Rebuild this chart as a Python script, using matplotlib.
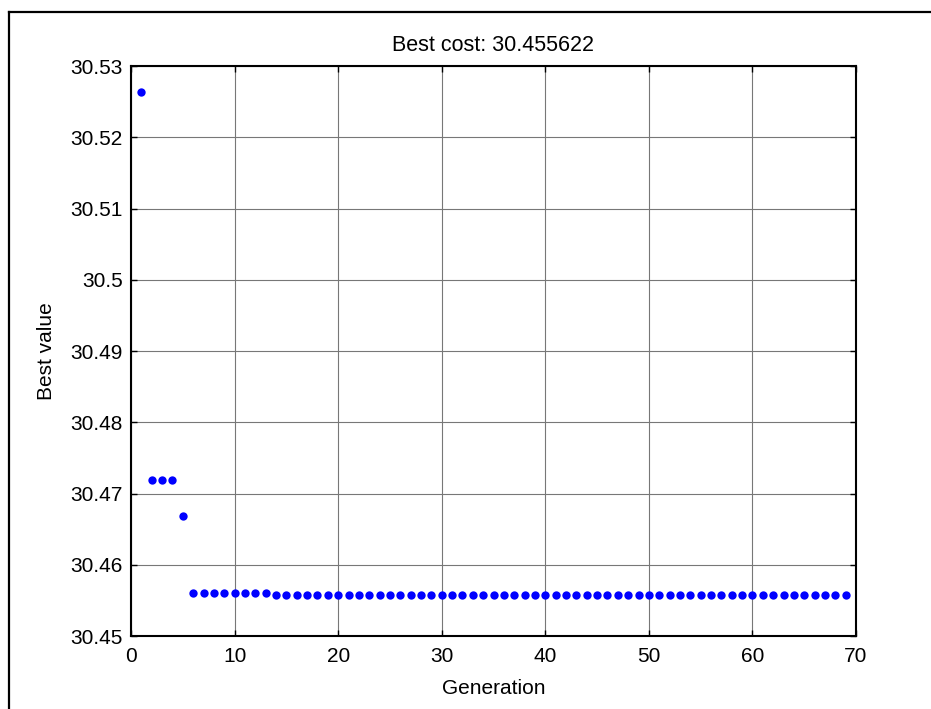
import matplotlib
matplotlib.use("Agg")
import matplotlib.pyplot as plt
from matplotlib.lines import Line2D

plt.rcParams['font.family'] = ['Liberation Sans', 'DejaVu Sans']

# Data
generations = list(range(1, 70))
best_values = ([30.5263] + [30.4719] * 3 + [30.4668] + [30.4560] * 8 +
               [30.4557] * 56)
title_text = "Best cost: 30.455622"
x_ticks = [0, 10, 20, 30, 40, 50, 60, 70]
y_ticks = [30.45, 30.46, 30.47, 30.48, 30.49, 30.50, 30.51, 30.52, 30.53]
y_tick_labels = ["30.45", "30.46", "30.47", "30.48", "30.49", "30.5",
                 "30.51", "30.52", "30.53"]

fig = plt.figure(figsize=(9.31, 7.09), dpi=100)
ax = fig.add_axes([131 / 931, 73 / 709, 725 / 931, 570 / 709])

ax.plot(generations, best_values, linestyle='none', marker='o',
        markersize=6.0, color='#0000ff', markeredgewidth=0)

ax.set_xlim(0, 70)
ax.set_ylim(30.45, 30.53)
ax.set_xticks(x_ticks)
ax.set_yticks(y_ticks)
ax.set_yticklabels(y_tick_labels)

ax.grid(True, color='#777777', linewidth=0.8, linestyle='-')
ax.set_axisbelow(True)
ax.tick_params(direction='in', length=4, width=1.0, top=True, right=True,
               labelsize=15, colors='black')
ax.tick_params(axis='x', pad=8)
ax.tick_params(axis='y', pad=6)
for sp in ax.spines.values():
    sp.set_linewidth(1.5)
    sp.set_color('black')

ax.set_title(title_text, fontsize=15.5, pad=11)
ax.set_xlabel("Generation", fontsize=15, labelpad=9)
ax.set_ylabel("Best value", fontsize=15, labelpad=10)

# Outer frame (left and top edges)
fig.add_artist(Line2D([9 / 931, 9 / 931], [0, 1 - 12 / 709],
                      transform=fig.transFigure, color='black', linewidth=1.6))
fig.add_artist(Line2D([9 / 931, 1], [1 - 12 / 709, 1 - 12 / 709],
                      transform=fig.transFigure, color='black', linewidth=1.6))

fig.savefig("out.png", dpi=100)
